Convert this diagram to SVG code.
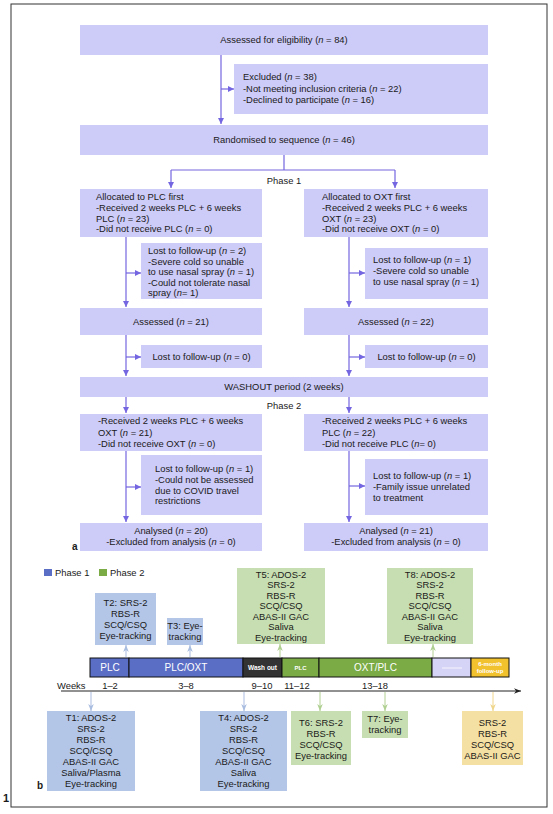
<svg xmlns="http://www.w3.org/2000/svg" width="553" height="814" viewBox="0 0 553 814">
<defs>
<style>
text{font-family:"Liberation Sans",Arial,sans-serif;font-size:9.4px;fill:#1a1a1a}
.c{text-anchor:middle}
.box{fill:#cdcbf7}
.fl{stroke:#7466e0;stroke-width:1.2;fill:none}
.lb{fill:#b4c6e7}.lg{fill:#c6deb1}.ly{fill:#f5e0a3}
.w{fill:#fff}
.bold{font-weight:bold}
</style>
<marker id="ap" viewBox="0 0 10 10" refX="10" refY="5" markerWidth="6" markerHeight="6" orient="auto" markerUnits="userSpaceOnUse"><path d="M0,0L10,5L0,10z" fill="#7466e0"/></marker>
<marker id="ab" viewBox="0 0 10 10" refX="10" refY="5" markerWidth="7" markerHeight="7" orient="auto" markerUnits="userSpaceOnUse"><path d="M0,1L10,5L0,9L3,5z" fill="#a9bde0"/></marker>
<marker id="ag" viewBox="0 0 10 10" refX="10" refY="5" markerWidth="7" markerHeight="7" orient="auto" markerUnits="userSpaceOnUse"><path d="M0,1L10,5L0,9L3,5z" fill="#b0d092"/></marker>
<marker id="ay" viewBox="0 0 10 10" refX="10" refY="5" markerWidth="7" markerHeight="7" orient="auto" markerUnits="userSpaceOnUse"><path d="M0,1L10,5L0,9L3,5z" fill="#f0d68c"/></marker>
<marker id="ak" viewBox="0 0 10 10" refX="10" refY="5" markerWidth="9" markerHeight="7" orient="auto" markerUnits="userSpaceOnUse"><path d="M0,1L10,5L0,9L3,5z" fill="#222"/></marker>
</defs>
<rect width="553" height="814" fill="#fff"/>
<rect x="11" y="4" width="536" height="803" fill="none" stroke="#333" stroke-width="1"/>
<text x="3" y="802" class="bold" style="font-size:11px">1</text>
<text x="72" y="550" class="bold" style="font-size:10px">a</text>
<text x="37" y="789" class="bold" style="font-size:10px">b</text>

<g id="connectors">
<path class="fl" d="M221,55V124" marker-end="url(#ap)"/>
<path class="fl" d="M221,89H234" marker-end="url(#ap)"/>
<path class="fl" d="M284,155V170M171,170H395"/>
<path class="fl" d="M171,170V188" marker-end="url(#ap)"/>
<path class="fl" d="M395,170V188" marker-end="url(#ap)"/>
<path class="fl" d="M126,237V307" marker-end="url(#ap)"/>
<path class="fl" d="M126,273H141" marker-end="url(#ap)"/>
<path class="fl" d="M349,237V307" marker-end="url(#ap)"/>
<path class="fl" d="M349,273H365" marker-end="url(#ap)"/>
<path class="fl" d="M126,335V376" marker-end="url(#ap)"/>
<path class="fl" d="M126,357H141" marker-end="url(#ap)"/>
<path class="fl" d="M349,335V376" marker-end="url(#ap)"/>
<path class="fl" d="M349,357H365" marker-end="url(#ap)"/>
<path class="fl" d="M126,397V413" marker-end="url(#ap)"/>
<path class="fl" d="M349,397V413" marker-end="url(#ap)"/>
<path class="fl" d="M126,451V522" marker-end="url(#ap)"/>
<path class="fl" d="M126,487H141" marker-end="url(#ap)"/>
<path class="fl" d="M349,451V522" marker-end="url(#ap)"/>
<path class="fl" d="M349,486H365" marker-end="url(#ap)"/>
<g stroke-width="1" fill="none">
<path d="M126,657V645" stroke="#a9bde0" marker-end="url(#ab)"/>
<path d="M190,657V645" stroke="#a9bde0" marker-end="url(#ab)"/>
<path d="M280,657V644" stroke="#b0d092" marker-end="url(#ag)"/>
<path d="M433,657V644" stroke="#b0d092" marker-end="url(#ag)"/>
<path d="M91,692V711" stroke="#a9bde0" marker-end="url(#ab)"/>
<path d="M244,692V711" stroke="#a9bde0" marker-end="url(#ab)"/>
<path d="M320,692V711" stroke="#b0d092" marker-end="url(#ag)"/>
<path d="M385,692V711" stroke="#b0d092" marker-end="url(#ag)"/>
<path d="M493,692V711" stroke="#f0d68c" marker-end="url(#ay)"/>
<path d="M61,691H521" stroke="#222" marker-end="url(#ak)"/>
</g>
</g>

<g id="n-assessed"><rect class="box" x="80" y="25" width="408" height="30"/><text class="c" x="284" y="43.4">Assessed for eligibility (<tspan font-style="italic">n</tspan> = 84)</text></g>
<g id="n-excluded"><rect class="box" x="234" y="64" width="254" height="50"/>
<text x="243" y="80.4">Excluded (<tspan font-style="italic">n</tspan> = 38)</text>
<text x="243" y="91.9">-Not meeting inclusion criteria (<tspan font-style="italic">n</tspan> = 22)</text>
<text x="243" y="103.4">-Declined to participate (<tspan font-style="italic">n</tspan> = 16)</text></g>
<g id="n-random"><rect class="box" x="80" y="125" width="408" height="30"/><text class="c" x="284" y="143.4">Randomised to sequence (<tspan font-style="italic">n</tspan> = 46)</text></g>
<text class="c" x="284" y="183.5">Phase 1</text>
<g id="n-alloc-plc"><rect class="box" x="80" y="189" width="182" height="48"/>
<text x="96" y="199.5">Allocated to PLC first</text>
<text x="96" y="210.5">-Received 2 weeks PLC + 6 weeks</text>
<text x="96" y="221.5">PLC (<tspan font-style="italic">n</tspan> = 23)</text>
<text x="96" y="232.3">-Did not receive PLC (<tspan font-style="italic">n</tspan> = 0)</text></g>
<g id="n-alloc-oxt"><rect class="box" x="304" y="189" width="184" height="48"/>
<text x="322" y="199.5">Allocated to OXT first</text>
<text x="322" y="210.5">-Received 2 weeks PLC + 6 weeks</text>
<text x="322" y="221.5">OXT (<tspan font-style="italic">n</tspan> = 23)</text>
<text x="322" y="232.3">-Did not receive OXT (<tspan font-style="italic">n</tspan> = 0)</text></g>
<g id="n-lost1-l"><rect class="box" x="141" y="243" width="121" height="56"/>
<text x="148" y="254">Lost to follow-up (<tspan font-style="italic">n</tspan> = 2)</text>
<text x="148" y="264.5">-Severe cold so unable</text>
<text x="148" y="275">to use nasal spray (<tspan font-style="italic">n</tspan> = 1)</text>
<text x="148" y="285.5">-Could not tolerate nasal</text>
<text x="148" y="296">spray (<tspan font-style="italic">n</tspan>= 1)</text></g>
<g id="n-lost1-r"><rect class="box" x="365" y="248" width="123" height="51"/>
<text x="373" y="263">Lost to follow-up (<tspan font-style="italic">n</tspan> = 1)</text>
<text x="373" y="273.8">-Severe cold so unable</text>
<text x="373" y="284.6">to use nasal spray (<tspan font-style="italic">n</tspan> = 1)</text></g>
<g id="n-assessed-l"><rect class="box" x="80" y="308" width="182" height="27"/><text class="c" x="171" y="324.9">Assessed (<tspan font-style="italic">n</tspan> = 21)</text></g>
<g id="n-assessed-r"><rect class="box" x="304" y="308" width="184" height="27"/><text class="c" x="396" y="324.9">Assessed (<tspan font-style="italic">n</tspan> = 22)</text></g>
<g id="n-lost0-l"><rect class="box" x="141" y="345" width="121" height="23"/><text class="c" x="201.5" y="359.9">Lost to follow-up (<tspan font-style="italic">n</tspan> = 0)</text></g>
<g id="n-lost0-r"><rect class="box" x="365" y="345" width="123" height="23"/><text class="c" x="426.5" y="359.9">Lost to follow-up (<tspan font-style="italic">n</tspan> = 0)</text></g>
<g id="n-washout"><rect class="box" x="80" y="377" width="408" height="20"/><text class="c" x="284" y="390.4">WASHOUT period (2 weeks)</text></g>
<text class="c" x="284" y="408.5">Phase 2</text>
<g id="n-p2-l"><rect class="box" x="80" y="414" width="182" height="37"/>
<text x="98" y="424.4">-Received 2 weeks PLC + 6 weeks</text>
<text x="98" y="435.6">OXT (<tspan font-style="italic">n</tspan> = 21)</text>
<text x="98" y="446.8">-Did not receive OXT (<tspan font-style="italic">n</tspan> = 0)</text></g>
<g id="n-p2-r"><rect class="box" x="304" y="414" width="184" height="37"/>
<text x="322" y="424.4">-Received 2 weeks PLC + 6 weeks</text>
<text x="322" y="435.6">PLC (<tspan font-style="italic">n</tspan> = 22)</text>
<text x="322" y="446.8">-Did not receive PLC (<tspan font-style="italic">n</tspan>= 0)</text></g>
<g id="n-lost2-l"><rect class="box" x="141" y="455" width="121" height="60"/>
<text x="155" y="472">Lost to follow-up (<tspan font-style="italic">n</tspan> = 1)</text>
<text x="155" y="482.8">-Could not be assessed</text>
<text x="155" y="493.6">due to COVID travel</text>
<text x="155" y="504.4">restrictions</text></g>
<g id="n-lost2-r"><rect class="box" x="365" y="459" width="123" height="56"/>
<text x="373" y="479.4">Lost to follow-up (<tspan font-style="italic">n</tspan> = 1)</text>
<text x="373" y="490">-Family issue unrelated</text>
<text x="373" y="500.6">to treatment</text></g>
<g id="n-anal-l"><rect class="box" x="80" y="523" width="182" height="28"/>
<text class="c" x="171" y="534">Analysed (<tspan font-style="italic">n</tspan> = 20)</text>
<text class="c" x="171" y="545">-Excluded from analysis (<tspan font-style="italic">n</tspan> = 0)</text></g>
<g id="n-anal-r"><rect class="box" x="304" y="523" width="184" height="28"/>
<text class="c" x="396" y="534">Analysed (<tspan font-style="italic">n</tspan> = 21)</text>
<text class="c" x="396" y="545">-Excluded from analysis (<tspan font-style="italic">n</tspan> = 0)</text></g>

<g id="legend">
<rect x="44" y="569" width="8" height="7" fill="#5b6ec6"/><text x="55" y="576">Phase 1</text>
<rect x="99" y="569" width="8" height="7" fill="#7aab45"/><text x="110" y="576">Phase 2</text>
</g>

<g id="bar" stroke="#111" stroke-width="1">
<rect x="90" y="658" width="39" height="19" fill="#5b6ec6"/>
<rect x="129" y="658" width="114" height="19" fill="#5b6ec6"/>
<rect x="243" y="658" width="39" height="19" fill="#333"/>
<rect x="282" y="658" width="37" height="19" fill="#7aab45"/>
<rect x="319" y="658" width="113" height="19" fill="#7aab45"/>
<rect x="432" y="658" width="39" height="19" fill="#d5d3f6"/>
<rect x="471" y="658" width="38" height="19" fill="#f2c12e"/>
<line x1="442" y1="668" x2="462" y2="668" stroke="#fff" stroke-width="0.8"/>
</g>
<g id="bar-labels">
<text class="c w" x="110" y="671" style="font-size:10px">PLC</text>
<text class="c w" x="186" y="671" style="font-size:10px">PLC/OXT</text>
<text class="c w bold" x="262.5" y="670" style="font-size:6.5px">Wash out</text>
<text class="c w bold" x="300.5" y="670" style="font-size:6px">PLC</text>
<text class="c w" x="375.5" y="671" style="font-size:10px">OXT/PLC</text>
<text class="c w bold" x="490" y="665.5" style="font-size:6px">6-month</text>
<text class="c w bold" x="490" y="673" style="font-size:6px">follow-up</text>
</g>
<g id="weeks">
<text x="57" y="688.5">Weeks</text>
<text class="c" x="110" y="688.5">1–2</text>
<text class="c" x="186" y="688.5">3–8</text>
<text class="c" x="262" y="688.5">9–10</text>
<text class="c" x="297" y="688.5">11–12</text>
<text class="c" x="375" y="688.5">13–18</text>
</g>

<g id="t2"><rect class="lb" x="95" y="593" width="61" height="52"/>
<text class="c" x="125.5" y="606.4">T2: SRS-2</text><text class="c" x="125.5" y="617.4">RBS-R</text><text class="c" x="125.5" y="628.4">SCQ/CSQ</text><text class="c" x="125.5" y="639.4">Eye-tracking</text></g>
<g id="t3"><rect class="lb" x="167" y="618" width="36" height="27"/>
<text class="c" x="185" y="629.4">T3: Eye-</text><text class="c" x="185" y="640.4">tracking</text></g>
<g id="t5"><rect class="lg" x="237" y="568" width="88" height="76"/>
<text class="c" x="281" y="577.9">T5: ADOS-2</text><text class="c" x="281" y="588.4">SRS-2</text><text class="c" x="281" y="598.9">RBS-R</text><text class="c" x="281" y="609.4">SCQ/CSQ</text><text class="c" x="281" y="619.9">ABAS-II GAC</text><text class="c" x="281" y="630.4">Saliva</text><text class="c" x="281" y="640.9">Eye-tracking</text></g>
<g id="t8"><rect class="lg" x="387" y="568" width="86" height="76"/>
<text class="c" x="430" y="577.9">T8: ADOS-2</text><text class="c" x="430" y="588.4">SRS-2</text><text class="c" x="430" y="598.9">RBS-R</text><text class="c" x="430" y="609.4">SCQ/CSQ</text><text class="c" x="430" y="619.9">ABAS-II GAC</text><text class="c" x="430" y="630.4">Saliva</text><text class="c" x="430" y="640.9">Eye-tracking</text></g>
<g id="t1"><rect class="lb" x="47" y="711" width="88" height="80"/>
<text class="c" x="91" y="721.4">T1: ADOS-2</text><text class="c" x="91" y="732.4">SRS-2</text><text class="c" x="91" y="743.4">RBS-R</text><text class="c" x="91" y="754.4">SCQ/CSQ</text><text class="c" x="91" y="765.4">ABAS-II GAC</text><text class="c" x="91" y="776.4">Saliva/Plasma</text><text class="c" x="91" y="787.4">Eye-tracking</text></g>
<g id="t4"><rect class="lb" x="200" y="711" width="87" height="80"/>
<text class="c" x="243.5" y="721.4">T4: ADOS-2</text><text class="c" x="243.5" y="732.4">SRS-2</text><text class="c" x="243.5" y="743.4">RBS-R</text><text class="c" x="243.5" y="754.4">SCQ/CSQ</text><text class="c" x="243.5" y="765.4">ABAS-II GAC</text><text class="c" x="243.5" y="776.4">Saliva</text><text class="c" x="243.5" y="787.4">Eye-tracking</text></g>
<g id="t6"><rect class="lg" x="291" y="711" width="60" height="54"/>
<text class="c" x="321" y="725.9">T6: SRS-2</text><text class="c" x="321" y="736.9">RBS-R</text><text class="c" x="321" y="747.9">SCQ/CSQ</text><text class="c" x="321" y="758.9">Eye-tracking</text></g>
<g id="t7"><rect class="lg" x="362" y="711" width="46" height="27"/>
<text class="c" x="385" y="722.4">T7: Eye-</text><text class="c" x="385" y="733.4">tracking</text></g>
<g id="t9"><rect class="ly" x="462" y="711" width="61" height="54"/>
<text class="c" x="492.5" y="725.9">SRS-2</text><text class="c" x="492.5" y="736.9">RBS-R</text><text class="c" x="492.5" y="747.9">SCQ/CSQ</text><text class="c" x="492.5" y="758.9">ABAS-II GAC</text></g>
</svg>
